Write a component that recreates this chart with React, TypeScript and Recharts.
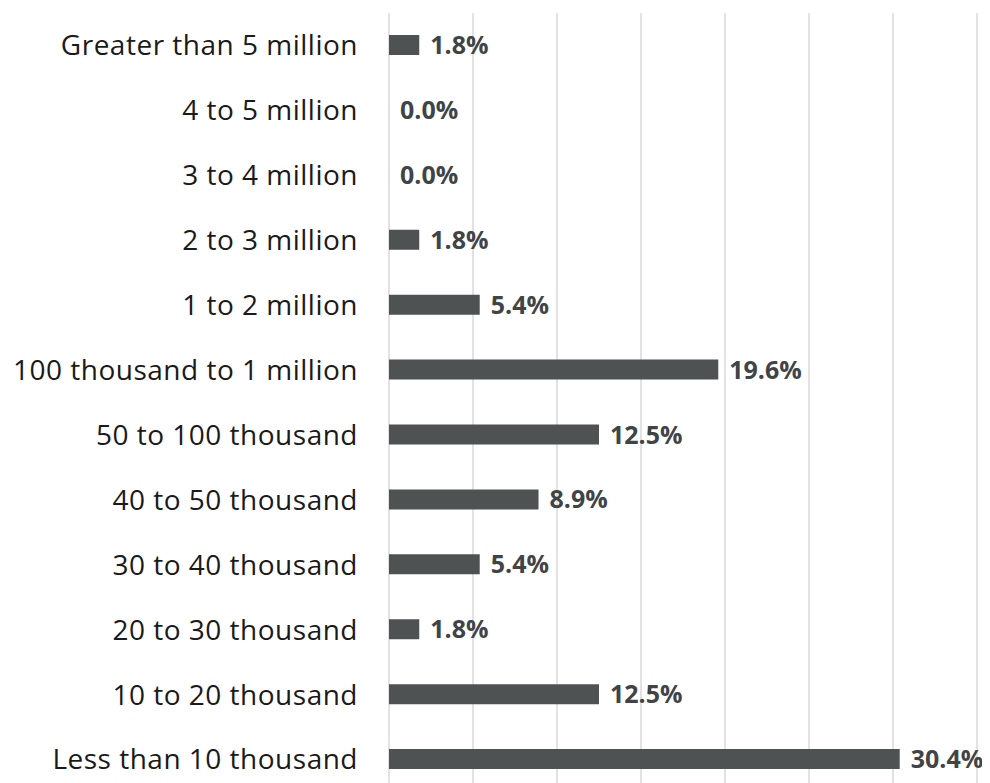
import React from 'react';
import { BarChart, Bar, XAxis, YAxis, CartesianGrid, LabelList } from 'recharts';

const categories = [
  'Greater than 5 million',
  '4 to 5 million',
  '3 to 4 million',
  '2 to 3 million',
  '1 to 2 million',
  '100 thousand to 1 million',
  '50 to 100 thousand',
  '40 to 50 thousand',
  '30 to 40 thousand',
  '20 to 30 thousand',
  '10 to 20 thousand',
  'Less than 10 thousand',
];

const shares = [1.8, 0.0, 0.0, 1.8, 5.4, 19.6, 12.5, 8.9, 5.4, 1.8, 12.5, 30.4];

const xTicks = [0, 5, 10, 15, 20, 25, 30, 35];

const data = categories.map((name, i) => ({ name, value: shares[i] }));

const FONT = '"Open Sans", "Noto Sans", sans-serif';

// labels sit just right of the bar end, zero bars included
const renderValue = (props: any) => {
  const x = Number(props.x) + Number(props.width || 0);
  const y = Number(props.y) + Number(props.height) / 2;
  return (
    <text
      x={x + 11}
      y={y}
      dy="0.36em"
      fill="#404446"
      fontSize={25}
      fontWeight={700}
      fontFamily={FONT}
    >
      {`${Number(props.value).toFixed(1)}%`}
    </text>
  );
};

export default function App() {
  return (
    <div style={{ width: 982, height: 775, overflow: 'hidden' }}>
      <BarChart
        width={982}
        height={785}
        data={data}
        layout="vertical"
        margin={{ top: 5, right: 13, bottom: 1, left: 0 }}
        barCategoryGap={0}
      >
        <CartesianGrid horizontal={false} stroke="#d9d9d9" strokeWidth={1.5} />
        <XAxis type="number" domain={[0, 35]} ticks={xTicks} hide />
        <YAxis
          type="category"
          dataKey="name"
          width={381}
          axisLine={false}
          tickLine={false}
          tickSize={0}
          tickMargin={31}
          interval={0}
          tick={{ fill: '#1a1a1a', fontSize: 28, fontFamily: FONT, letterSpacing: 0.5 }}
        />
        <Bar
          dataKey="value"
          fill="#4e5253"
          barSize={20}
          minPointSize={0.01}
          isAnimationActive={false}
        >
          <LabelList dataKey="value" content={renderValue} />
        </Bar>
      </BarChart>
    </div>
  );
}
